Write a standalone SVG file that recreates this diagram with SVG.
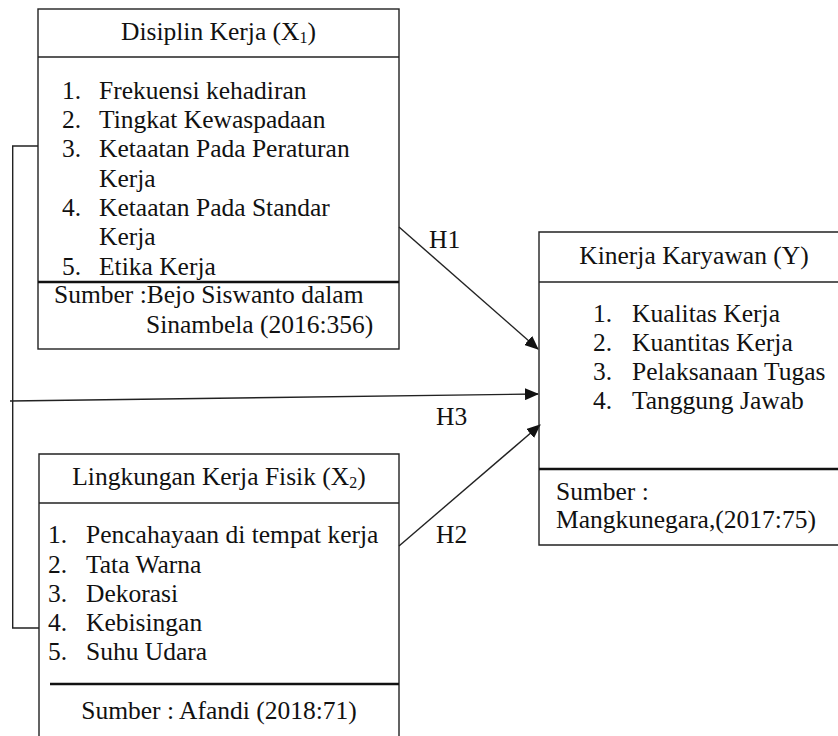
<svg xmlns="http://www.w3.org/2000/svg" width="838" height="736" viewBox="0 0 838 736">
<style>
text{font-family:'Liberation Serif','Times New Roman',Times,serif;font-size:25.5px;fill:#111}
.c{text-anchor:middle}
.box{fill:none;stroke:#222;stroke-width:1.4}
.thin{stroke:#222;stroke-width:1.4}
.thick{stroke:#111;stroke-width:2.6}
.conn{fill:none;stroke:#222;stroke-width:1.4}
.sub{font-size:16px}
</style>
<defs>
<marker id="ah" markerWidth="14" markerHeight="12" refX="13" refY="6" orient="auto" markerUnits="userSpaceOnUse">
<path d="M0,0 L14,6 L0,12 Z" fill="#111"/>
</marker>
</defs>
<rect width="838" height="736" fill="#fff"/>
<g id="connectors">
<polyline class="conn" points="38,146 12.7,146 12.7,628 39,628"/>
<line class="conn" x1="10" y1="401" x2="538" y2="394" marker-end="url(#ah)"/>
<line class="conn" x1="399" y1="227" x2="538" y2="349" marker-end="url(#ah)"/>
<line class="conn" x1="399" y1="546" x2="540" y2="425" marker-end="url(#ah)"/>
<text x="429" y="248">H1</text>
<text x="436" y="425">H3</text>
<text x="436" y="543">H2</text>
</g>
<g id="x1">
<rect class="box" x="38" y="9" width="361" height="340"/>
<line class="thin" x1="38" y1="57" x2="399" y2="57"/>
<line class="thick" x1="38" y1="282" x2="399" y2="282"/>
<text class="c" x="218.5" y="40">Disiplin Kerja (X<tspan class="sub" dy="3">1</tspan><tspan dy="-3">)</tspan></text>
<text x="62" y="99">1.</text><text x="99" y="99">Frekuensi kehadiran</text>
<text x="62" y="128">2.</text><text x="99" y="128">Tingkat Kewaspadaan</text>
<text x="62" y="157">3.</text><text x="99" y="157">Ketaatan Pada Peraturan</text>
<text x="99" y="187">Kerja</text>
<text x="62" y="216">4.</text><text x="99" y="216">Ketaatan Pada Standar</text>
<text x="99" y="245">Kerja</text>
<text x="62" y="275">5.</text><text x="99" y="275">Etika Kerja</text>
<text x="54" y="303">Sumber :Bejo Siswanto dalam</text>
<text x="146" y="333">Sinambela (2016:356)</text>
</g>
<g id="x2">
<polyline class="box" points="39,740 39,454 399,454 399,740"/>
<line class="thin" x1="39" y1="503" x2="399" y2="503"/>
<line class="thick" x1="50" y1="684" x2="399" y2="684"/>
<text class="c" x="219" y="485">Lingkungan Kerja Fisik (X<tspan class="sub" dy="3">2</tspan><tspan dy="-3">)</tspan></text>
<text x="48" y="543">1.</text><text x="86" y="543">Pencahayaan di tempat kerja</text>
<text x="48" y="573">2.</text><text x="86" y="573">Tata Warna</text>
<text x="48" y="602">3.</text><text x="86" y="602">Dekorasi</text>
<text x="48" y="631">4.</text><text x="86" y="631">Kebisingan</text>
<text x="48" y="660">5.</text><text x="86" y="660">Suhu Udara</text>
<text class="c" x="219" y="719">Sumber : Afandi (2018:71)</text>
</g>
<g id="y">
<polyline class="box" points="842,232 539,232 539,545 842,545"/>
<line class="thin" x1="539" y1="282" x2="842" y2="282"/>
<line class="thick" x1="539" y1="469" x2="842" y2="469"/>
<text class="c" x="694" y="264">Kinerja Karyawan (Y)</text>
<text x="593" y="322">1.</text><text x="632" y="322">Kualitas Kerja</text>
<text x="593" y="351">2.</text><text x="632" y="351">Kuantitas Kerja</text>
<text x="593" y="380">3.</text><text x="632" y="380">Pelaksanaan Tugas</text>
<text x="593" y="409">4.</text><text x="632" y="409">Tanggung Jawab</text>
<text x="556" y="500">Sumber :</text>
<text x="556" y="528">Mangkunegara,(2017:75)</text>
</g>
</svg>
